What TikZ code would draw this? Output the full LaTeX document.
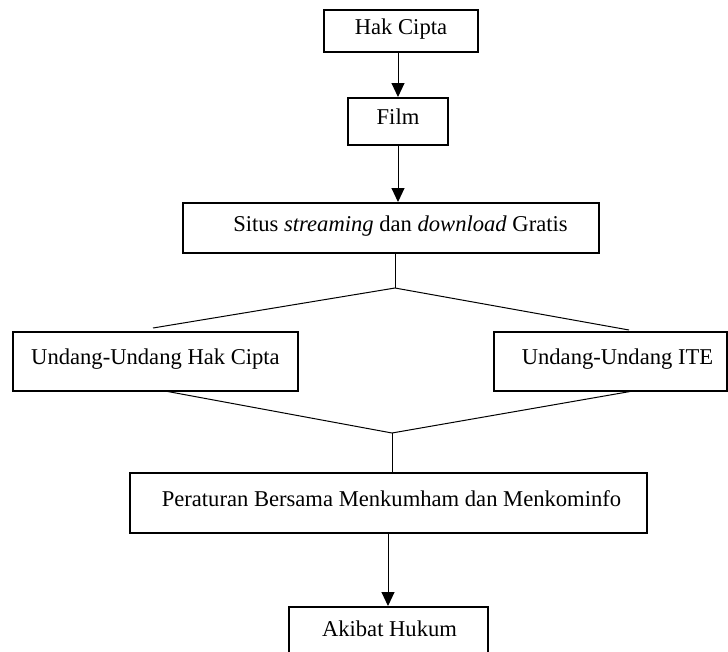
\documentclass[tikz,border=0pt]{standalone}
\usepackage{fontspec}
\setmainfont{Liberation Serif}
\usetikzlibrary{arrows.meta,calc}
\begin{document}
\begin{tikzpicture}[x=1pt,y=-1pt,
  box/.style={draw, line width=2pt, font=\fontsize{22.6}{26}\selectfont, text height=0.66em, text depth=0pt, inner sep=0pt, minimum height=#1},
  box/.default=50pt,
  arr/.style={line width=1pt, -{Triangle[length=14pt,width=13pt]}},
  ln/.style={line width=1pt}]
\useasboundingbox (0,0) rectangle (728,651);
\clip (0,0) rectangle (728,651);
\node[box=42pt, minimum width=154pt] (hak) at (401,31) {Hak Cipta};
\node[box=47pt, minimum width=100pt] (film) at (398,121.5) {Film};
\node[box=50pt, minimum width=416pt] (situs) at (391,228) {\hspace*{19pt}Situs \textit{streaming} dan \textit{download} Gratis};
\node[box=59pt, minimum width=285pt] (uuhc) at (155.5,361.5) {Undang-Undang Hak Cipta};
\node[box=59pt, minimum width=233pt] (uuite) at (610.5,361.5) {\hspace*{14pt}Undang-Undang ITE};
\node[box=60pt, minimum width=517pt] (per) at (388.5,503) {\hspace*{6pt}Peraturan Bersama Menkumham dan Menkominfo};
\node[box=52pt, minimum width=199pt] (akibat) at (388,633) {\hspace*{3pt}Akibat Hukum};
\coordinate (j1) at (395,288);
\coordinate (hcin) at (153,328);
\coordinate (itein) at (629,330);
\coordinate (hcout) at (165,391);
\coordinate (iteout) at (633,391);
\coordinate (j2) at (392,433);
\draw[arr] (film.north |- hak.south) -- (film.north);
\draw[arr] (film.south) -- (film.south |- situs.north);
\draw[ln] (j1 |- situs.south) -- (j1);
\draw[ln] (hcin) -- (j1) -- (itein);
\draw[ln] (hcout) -- (j2) -- (iteout);
\draw[ln] (j2) -- (j2 |- per.north);
\draw[arr] (akibat.north |- per.south) -- (akibat.north);
\end{tikzpicture}
\end{document}
